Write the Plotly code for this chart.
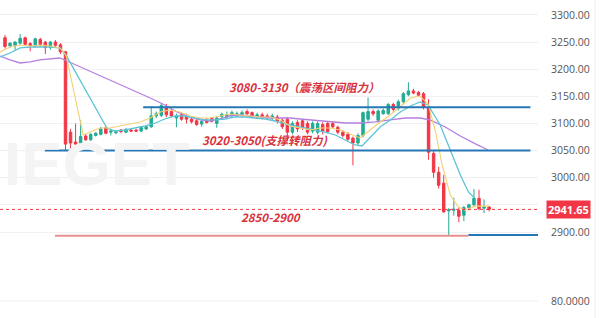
import plotly.graph_objects as go

# ---------------- data ----------------
idx = list(range(97))
opens = [3258,3243,3244,3248,3258,3247,3243,3255,3250,3240,3250,3245,3232,3084,3066,3064,3077,3070,3078,3080,
         3092,3084,3083,3088,3084,3088,3088,3086,3090,3094,3114,3115,3130,3122,3110,3116,3112,3108,3105,3099,
         3106,3110,3100,3113,3112,3115,3115,3116,3122,3120,3112,3116,3114,3110,3112,3106,3108,3084,3102,3105,
         3100,3086,3084,3098,3100,3100,3093,3084,3080,3073,3064,3078,3108,3122,3106,3118,3118,3135,3128,3140,
         3153,3160,3157,3155,3130,3045,3010,2990,2939,2940,2940,2931,2945,2950,2962,2944,2946]
highs = [3263,3250,3252,3265,3260,3250,3258,3258,3252,3252,3254,3248,3234,3090,3100,3106,3080,3082,3084,3094,
         3095,3090,3088,3090,3092,3091,3090,3095,3096,3132,3122,3138,3136,3128,3118,3120,3118,3112,3108,3106,
         3110,3112,3114,3120,3122,3124,3122,3124,3126,3122,3120,3120,3118,3118,3116,3110,3112,3104,3106,3108,
         3104,3104,3104,3102,3104,3104,3096,3088,3084,3076,3082,3122,3148,3126,3126,3128,3138,3138,3144,3158,
         3176,3164,3160,3158,3145,3050,3020,3005,2944,2963,2945,2948,2952,2979,2978,2960,2948]
lows = [3238,3240,3235,3245,3244,3233,3240,3242,3228,3236,3240,3228,3050,3043,3060,3062,3068,3068,3076,3078,
        3080,3078,3080,3082,3082,3084,3084,3084,3088,3092,3110,3112,3112,3112,3093,3105,3100,3100,3096,3094,
        3100,3102,3092,3110,3108,3112,3112,3112,3116,3110,3108,3108,3108,3106,3100,3090,3068,3080,3084,3088,
        3080,3082,3080,3080,3082,3090,3080,3074,3068,3023,3060,3074,3104,3114,3102,3116,3116,3122,3124,3136,
        3150,3154,3150,3126,3033,3000,2980,2936,2893,2930,2918,2920,2940,2946,2940,2935,2938]
closes = [3242,3248,3250,3257,3246,3244,3256,3245,3240,3250,3244,3232,3062,3064,3062,3076,3070,3080,3082,3090,
          3082,3086,3085,3085,3089,3086,3086,3093,3094,3114,3118,3133,3116,3114,3114,3108,3108,3103,3098,3104,
          3102,3104,3110,3117,3116,3120,3118,3120,3118,3113,3116,3112,3111,3114,3104,3094,3084,3100,3090,3092,
          3084,3100,3100,3086,3085,3094,3084,3078,3071,3064,3078,3120,3122,3118,3123,3124,3135,3126,3140,3155,
          3160,3156,3152,3130,3047,3010,2986,2937,2941,2942,2929,2945,2950,2962,2943,2946,2941.65]

ma_fast_x = [-1.0,1.0,3.0,5.0,6.9,8.9,10.9,12.1,15.5,16.9,18.8,20.8,22.8,24.8,26.8,28.8,30.8,32.7,34.7,36.7,
             38.7,40.7,42.7,44.6,46.6,48.6,50.6,52.6,54.6,56.5,58.5,60.5,62.5,64.5,66.5,68.5,70.4,72.4,74.4,
             76.4,78.4,80.4,82.3,83.9,85.3,86.7,88.3,89.9,91.3,93.3,96.0]
ma_fast_y = [3231.8,3241.0,3244.7,3242.8,3244.7,3242.8,3239.2,3226.3,3078.8,3084.3,3091.7,3091.7,3095.4,3099.1,
             3102.8,3110.1,3121.2,3124.9,3121.2,3113.8,3110.1,3110.1,3113.8,3117.5,3115.7,3113.8,3112.0,3112.0,
             3106.5,3095.4,3091.7,3088.0,3091.7,3091.7,3088.0,3080.6,3073.3,3088.0,3102.8,3115.7,3132.2,3147.0,
             3150.6,3135.9,3088.0,3023.5,2968.2,2945.9,2940.4,2947.7,2947.7]

ma_mid_x = [-1.0,1.0,3.0,5.0,6.9,8.9,10.9,12.3,20.2,21.8,23.8,25.8,27.8,29.8,31.7,33.7,35.7,37.7,39.7,41.7,
            43.7,45.6,47.6,49.6,51.6,53.6,55.6,57.5,59.5,61.5,63.5,65.5,67.5,69.4,70.8,72.4,74.4,76.4,78.4,
            80.4,82.3,83.9,86.3,88.3,90.3,91.9,93.1]
ma_mid_y = [3222.6,3229.9,3239.2,3241.0,3241.0,3241.0,3239.2,3222.6,3091.7,3086.2,3088.0,3091.7,3095.4,3100.9,
            3108.3,3113.8,3113.8,3110.1,3106.5,3106.5,3108.3,3112.0,3112.0,3110.1,3108.3,3104.6,3099.1,3095.4,
            3091.7,3088.0,3084.3,3078.8,3069.6,3060.4,3058.5,3073.3,3093.6,3106.5,3121.2,3132.2,3139.6,3134.1,
            3097.2,3051.2,3005.1,2973.8,2962.6]

ma_slow_x = [-1.0,1.0,3.0,5.0,6.9,8.9,10.9,12.3,25.4,28.8,31.7,34.1,36.7,38.7,40.7,42.7,44.6,46.6,48.6,50.6,
             52.6,54.6,56.5,58.5,60.5,62.5,64.5,67.5,70.4,73.4,76.4,79.4,82.3,84.3,87.3,90.3,93.3,95.8]
ma_slow_y = [3224.4,3217.1,3211.5,3213.4,3217.1,3218.9,3220.7,3215.2,3161.7,3147.0,3134.1,3121.2,3112.0,3106.5,
             3104.6,3108.3,3113.8,3115.7,3113.8,3112.0,3110.1,3110.1,3110.1,3108.3,3106.5,3104.6,3102.8,3100.9,
             3100.9,3102.8,3106.5,3110.1,3110.1,3106.5,3093.6,3077.0,3062.3,3051.2]

tick_vals = [2900, 2950, 3000, 3050, 3100, 3150, 3200, 3250, 3300]
hidden_tick = 2950   # label covered by the last-price tag in the reference
tick_text = ["" if v == hidden_tick else "%.2f" % v for v in tick_vals]
last_price = 2941.65
vol_level = 2772.9
vol_label = "80.0000"
watermark = "IEGET"

resist_level = 3130
support_level = 3050
low_level = 2893
resist_text = "3080-3130（震荡区间阻力）"
support_text = "3020-3050(支撑转阻力)"
low_text = "2850-2900"

# ---------------- figure ----------------
RED = "#f23645"
GREEN = "#22ab94"
BLUE = "#2677b5"
TXT_RED = "#d8323c"

fig = go.Figure()

fig.add_trace(go.Scatter(x=ma_slow_x, y=ma_slow_y, mode="lines",
                         line=dict(color="#b57fe0", width=1.3), hoverinfo="skip"))
fig.add_trace(go.Scatter(x=ma_mid_x, y=ma_mid_y, mode="lines",
                         line=dict(color="#5cc4d6", width=1.3), hoverinfo="skip"))
fig.add_trace(go.Scatter(x=ma_fast_x, y=ma_fast_y, mode="lines",
                         line=dict(color="#f5cf73", width=1.1), hoverinfo="skip"))

fig.add_trace(go.Candlestick(
    x=idx, open=opens, high=highs, low=lows, close=closes,
    increasing=dict(line=dict(color=GREEN, width=1), fillcolor=GREEN),
    decreasing=dict(line=dict(color=RED, width=1), fillcolor=RED),
    whiskerwidth=0, hoverinfo="skip"))

shapes = [
    dict(type="line", xref="x", yref="y", x0=27.4, x1=104.2, y0=resist_level, y1=resist_level,
         line=dict(color=BLUE, width=2)),
    dict(type="line", xref="x", yref="y", x0=7.9, x1=104.2, y0=support_level, y1=support_level,
         line=dict(color=BLUE, width=2)),
    dict(type="line", xref="x", yref="y", x0=9.9, x1=91.9, y0=low_level, y1=low_level,
         line=dict(color="#e8908f", width=2)),
    dict(type="line", xref="x", yref="y", x0=91.9, x1=105.7, y0=low_level + 1.5, y1=low_level + 1.5,
         line=dict(color=BLUE, width=2)),
    dict(type="line", xref="paper", yref="y", x0=0, x1=1, y0=last_price, y1=last_price,
         line=dict(color=RED, width=1, dash="dot")),
    dict(type="line", xref="paper", yref="y", x0=0, x1=1, y0=vol_level, y1=vol_level,
         line=dict(color="#f0f0f0", width=1)),
    dict(type="line", xref="paper", yref="paper", x0=1.106, x1=1.106, y0=0, y1=1,
         line=dict(color="#eeeeee", width=1)),
]

annotations = [
    dict(text=watermark, xref="paper", yref="y", x=0.004, y=3027, xanchor="left", yanchor="middle",
         showarrow=False, font=dict(size=62, color="#f4f4f4", family="Arial Black, Liberation Sans", weight="bold")),
    dict(text=resist_text, xref="x", yref="y", x=59.3, y=3167, showarrow=False,
         font=dict(size=11.5, color=TXT_RED, family="Noto Sans CJK SC", weight="bold", style="italic")),
    dict(text=support_text, xref="x", yref="y", x=51.5, y=3069.6, showarrow=False,
         font=dict(size=11.5, color=TXT_RED, family="Noto Sans CJK SC", weight="bold", style="italic")),
    dict(text=low_text, xref="x", yref="y", x=52.9, y=2927.7, showarrow=False,
         font=dict(size=11.5, color=TXT_RED, family="Noto Sans CJK SC", weight="bold", style="italic")),
    dict(text="%.2f" % last_price, xref="paper", yref="y", x=1, y=last_price, xanchor="left",
         xshift=8, showarrow=False, bgcolor=RED, borderpad=1,
         font=dict(size=11, color="white", family="Open Sans", weight="bold")),
    dict(text=vol_label, xref="paper", yref="y", x=1, y=vol_level, xanchor="left", xshift=11,
         showarrow=False, font=dict(size=10.5, color="#555555", family="Open Sans")),
]

fig.update_layout(
    width=600, height=318,
    margin=dict(l=0, r=62, t=0, b=0),
    paper_bgcolor="white", plot_bgcolor="white",
    showlegend=False,
    shapes=shapes, annotations=annotations,
    xaxis=dict(range=[-0.99, 105.7], visible=False, rangeslider=dict(visible=False), fixedrange=True),
    yaxis=dict(range=[2741.5, 3327.6], side="right", tickvals=tick_vals, ticktext=tick_text,
               showgrid=True, gridcolor="#f0f0f0", gridwidth=1, zeroline=False, showline=False,
               ticks="", ticklabelstandoff=12,
               tickfont=dict(size=10.5, color="#555555", family="Open Sans")),
)

fig.write_html("out.html")
